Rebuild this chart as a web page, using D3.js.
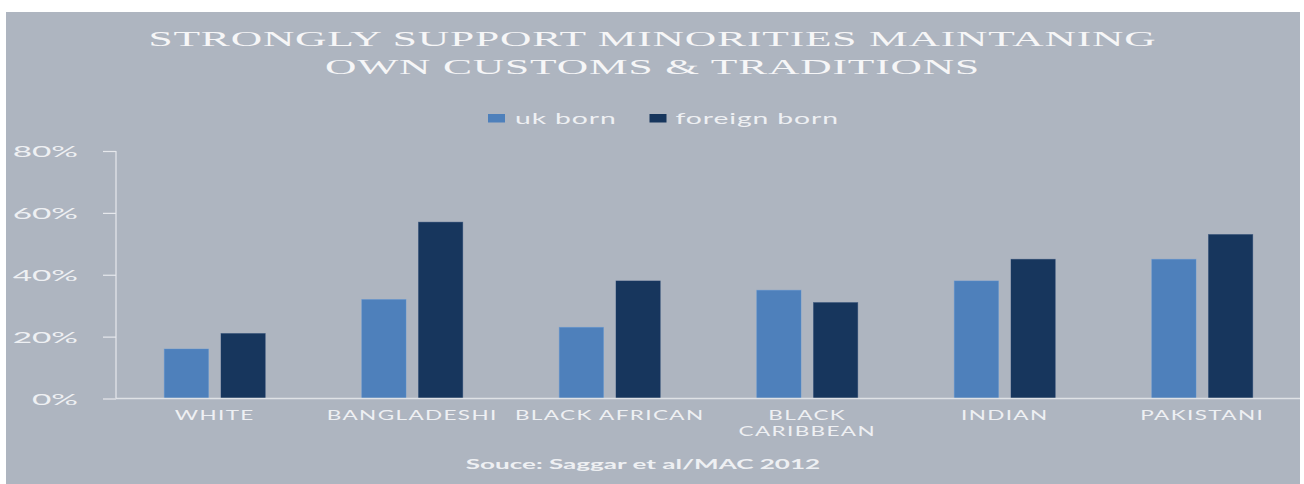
<!DOCTYPE html>
<html>
<head>
<meta charset="utf-8">
<script src="https://cdn.jsdelivr.net/npm/d3@7"></script>
<style>
  html, body { margin: 0; padding: 0; background: #ffffff; }
  svg { display: block; }
</style>
</head>
<body>
<svg id="chart" width="1304" height="484"></svg>
<script>
// Survey results: share who strongly support minorities maintaining own customs
const categories = ["WHITE", "BANGLADESHI", "BLACK AFRICAN", "BLACK\nCARIBBEAN", "INDIAN", "PAKISTANI"];
const seriesNames = ["uk born", "foreign born"];
const ukBorn      = [16, 32, 23, 35, 38, 45];
const foreignBorn = [21, 57, 38, 31, 45, 53];
const yTicks = [0, 20, 40, 60, 80];
const titleLines = ["STRONGLY SUPPORT MINORITIES MAINTANING", "OWN CUSTOMS & TRADITIONS"];
const sourceText = "Souce: Saggar et al/MAC 2012";

const colors = { "uk born": "#4e80bb", "foreign born": "#17365d" };
const bg = "#aeb5c0";
const ink = "#eef0f3";

const svg = d3.select("#chart");

// Horizontal stretch applied to glyphs so text spreads wide like the rest of the chart
function stretch(sel, sx) {
  sel.each(function () {
    const w = this.getComputedTextLength();
    d3.select(this).attr("textLength", w * sx).attr("lengthAdjust", "spacingAndGlyphs");
  });
  return sel;
}

svg.append("rect").attr("x", 6).attr("y", 12).attr("width", 1294).attr("height", 472).attr("fill", bg);

// Title
const title = svg.append("g");
titleLines.forEach((t, i) => {
  const el = title.append("text")
    .attr("x", 652.5).attr("y", 45.5 + i * 28.5)
    .attr("text-anchor", "middle")
    .attr("font-family", "'Liberation Serif', 'DejaVu Serif', serif")
    .attr("font-size", 20.5)
    .attr("letter-spacing", 0.4)
    .attr("fill", "#f6f6f7")
    .text(t);
  stretch(el, 2.12);
});

// Scales
const x = d3.scaleBand().domain(categories).range([116, 1301]).paddingInner(0).paddingOuter(0);
const x1 = d3.scaleBand().domain(seriesNames).range([-50.5, 50.5]).paddingInner(0.22);
const y = d3.scaleLinear().domain([0, 80]).range([398.5, 151]);

const rows = categories.map((c, i) => ({ cat: c, values: [ukBorn[i], foreignBorn[i]] }));

// Bars
const groups = svg.append("g").selectAll("g").data(rows).join("g")
  .attr("transform", d => `translate(${x(d.cat) + x.bandwidth() / 2},0)`);
groups.selectAll("rect")
  .data(d => d.values.map((v, j) => ({ s: seriesNames[j], v })))
  .join("rect")
  .attr("x", d => x1(d.s))
  .attr("width", x1.bandwidth())
  .attr("y", d => y(d.v))
  .attr("height", d => y(0) - y(d.v))
  .attr("fill", d => colors[d.s])
  .attr("stroke", d => d3.color(colors[d.s]).brighter(0.4))
  .attr("stroke-opacity", 0.5)
  .attr("stroke-width", 0.8);

// Baseline
svg.append("line")
  .attr("x1", 116).attr("x2", 1300)
  .attr("y1", y(0)).attr("y2", y(0))
  .attr("stroke", "#dfe2e6").attr("stroke-width", 1.4);

// Y axis
const yAxis = d3.axisLeft(y).tickValues(yTicks).tickSize(13).tickFormat(d => d + "%");
const yg = svg.append("g").attr("transform", "translate(116,0)").call(yAxis);
yg.select(".domain").attr("stroke", "#e6e8ec").attr("stroke-width", 1.2).attr("d", `M0,${y(80)}V${y(0)}`);
yg.selectAll(".tick line").attr("stroke", "#e6e8ec").attr("stroke-width", 1.2);
yg.selectAll(".tick text")
  .attr("x", -38).attr("dy", "0.36em")
  .attr("font-family", "Lato, 'Open Sans', sans-serif")
  .attr("font-size", 15.5)
  .attr("fill", ink)
  .each(function () { stretch(d3.select(this), 2.15); });

// X labels
const xl = svg.append("g");
rows.forEach(d => {
  const lines = d.cat.split("\n");
  lines.forEach((ln, k) => {
    const el = xl.append("text")
      .attr("x", x(d.cat) + x.bandwidth() / 2)
      .attr("y", 420 + k * 16)
      .attr("text-anchor", "middle")
      .attr("font-family", "Lato, 'Open Sans', sans-serif")
      .attr("font-size", 13)
      .attr("letter-spacing", 0.8)
      .attr("fill", ink)
      .text(ln);
    stretch(el, 1.73);
  });
});

// Legend
const legend = svg.append("g");
const legendPos = [{ sx: 488, tx: 515 }, { sx: 649.5, tx: 675.5 }];
seriesNames.forEach((s, i) => {
  legend.append("rect")
    .attr("x", legendPos[i].sx).attr("y", 114)
    .attr("width", 17).attr("height", 8.5)
    .attr("fill", colors[s]);
  const el = legend.append("text")
    .attr("x", legendPos[i].tx).attr("y", 123.5)
    .attr("font-family", "Lato, 'Open Sans', sans-serif")
    .attr("font-size", 16)
    .attr("letter-spacing", 0.5)
    .attr("fill", ink)
    .text(s);
  stretch(el, 1.77);
});

// Source
const src = svg.append("text")
  .attr("x", 643).attr("y", 468.5)
  .attr("text-anchor", "middle")
  .attr("font-family", "Lato, 'Open Sans', sans-serif")
  .attr("font-size", 14)
  .attr("font-weight", "bold")
  .attr("fill", ink)
  .text(sourceText);
stretch(src, 1.86);
</script>
</body>
</html>
